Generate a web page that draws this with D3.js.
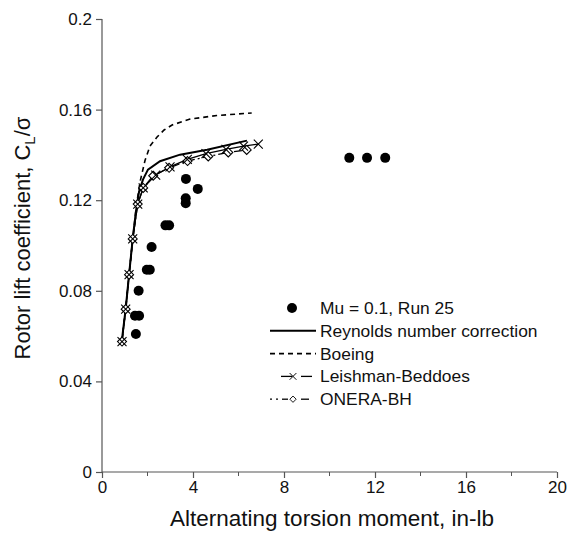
<!DOCTYPE html>
<html><head><meta charset="utf-8">
<script src="https://cdn.jsdelivr.net/npm/d3@7/dist/d3.min.js"></script>
<style>body{margin:0;background:#fff}svg{display:block;font-family:"Liberation Sans",Arial,sans-serif}</style>
</head><body><svg id="c" width="570" height="533"></svg>
<script>
// Data
const xTicks = [0, 4, 8, 12, 16, 20];
const yTicks = [0, 0.04, 0.08, 0.12, 0.16, 0.2];
const yTickLabels = ["0", "0.04", "0.08", "0.12", "0.16", "0.2"];
const testX = [1.49, 1.45, 1.63, 1.61, 1.97, 2.1, 2.18, 2.79, 2.95, 3.68, 3.68, 3.69, 4.21, 10.87, 11.65, 12.45];
const testY = [0.0609, 0.069, 0.069, 0.080, 0.0893, 0.0893, 0.0993, 0.1089, 0.1089, 0.1209, 0.1187, 0.1294, 0.125, 0.1387, 0.1387, 0.1387];
const reX = [0.866, 1.04, 1.19, 1.35, 1.49, 1.63, 1.80, 2.02, 2.55, 3.43, 4.62, 6.37];
const reY = [0.0576, 0.0719, 0.0871, 0.1029, 0.1150, 0.1238, 0.1291, 0.1335, 0.1372, 0.1401, 0.1423, 0.1463];
const boX = [0.866, 1.04, 1.19, 1.35, 1.52, 1.67, 1.89, 2.11, 2.42, 2.73, 3.08, 3.87, 5.05, 6.58];
const boY = [0.0576, 0.0719, 0.0871, 0.1029, 0.1181, 0.1280, 0.1375, 0.1439, 0.1479, 0.1510, 0.1532, 0.1558, 0.1574, 0.1585];
const lbX = [0.88, 1.04, 1.19, 1.35, 1.57, 1.81, 2.36, 2.99, 3.75, 4.57, 5.45, 6.22, 6.87];
const lbY = [0.0576, 0.0719, 0.0871, 0.1029, 0.1183, 0.1254, 0.1311, 0.1347, 0.1380, 0.1406, 0.1424, 0.1439, 0.1448];
const onX = [0.88, 1.04, 1.19, 1.35, 1.57, 1.81, 2.25, 2.95, 3.76, 4.67, 5.55, 6.36];
const onY = [0.0576, 0.0719, 0.0871, 0.1029, 0.1183, 0.1254, 0.1308, 0.1343, 0.1373, 0.1393, 0.1411, 0.1422];
const legendLabels = ["Mu = 0.1, Run 25", "Reynolds number correction", "Boeing", "Leishman-Beddoes", "ONERA-BH"];

const FONT = "Liberation Sans, Arial, sans-serif";
const svg = d3.select("#c");
const x = d3.scaleLinear().domain([0, 20]).range([102, 557]);
const y = d3.scaleLinear().domain([0, 0.2]).range([472, 19]);
const axisColor = "#555";

// X axis
const gx = svg.append("g").attr("transform", "translate(0,472)")
  .call(d3.axisBottom(x).tickValues(xTicks).tickSize(6).tickPadding(3).tickFormat(d3.format("d")));
gx.append("g").selectAll("line").data(d3.range(2, 20, 4)).join("line")
  .attr("x1", d => x(d)).attr("x2", d => x(d)).attr("y1", 0).attr("y2", 4).attr("stroke", axisColor);
// Y axis
const gy = svg.append("g").attr("transform", "translate(102,0)")
  .call(d3.axisLeft(y).tickValues(yTicks).tickSize(6).tickPadding(4).tickFormat((d, i) => yTickLabels[i]));
[gx, gy].forEach(g => {
  g.attr("font-family", FONT);
  g.select(".domain").attr("stroke", axisColor).attr("stroke-width", 1.2);
  g.selectAll(".tick line").attr("stroke", axisColor).attr("stroke-width", 1.2);
  g.selectAll("text").attr("font-size", 17).attr("fill", "#111").attr("font-family", FONT);
});
gx.select(".domain").attr("d", "M102,0H557");
gy.select(".domain").attr("d", "M0,19V472");

// Axis titles
svg.append("text").attr("x", 332).attr("y", 526).attr("text-anchor", "middle").attr("font-family", FONT)
  .attr("font-size", 22.5).attr("fill", "#111").text("Alternating torsion moment, in-lb");
const yl = svg.append("text").attr("transform", "translate(30,238) rotate(-90)").attr("text-anchor", "middle")
  .attr("font-size", 22).attr("fill", "#111").attr("font-family", FONT);
yl.append("tspan").text("Rotor lift coefficient, C");
yl.append("tspan").attr("font-size", 15).attr("dy", 5).text("L");
yl.append("tspan").attr("dy", -5).text("/σ");

const line = d3.line().x(d => x(d[0])).y(d => y(d[1]));
const zip = (a, b) => a.map((v, i) => [v, b[i]]);

// Lines
svg.append("path").datum(zip(boX, boY)).attr("d", line).attr("fill", "none")
  .attr("stroke", "#000").attr("stroke-width", 1.6).attr("stroke-dasharray", "5,4");
svg.append("path").datum(zip(onX, onY)).attr("d", line).attr("fill", "none")
  .attr("stroke", "#000").attr("stroke-width", 1.3).attr("stroke-dasharray", "8,3,2,3");
svg.append("path").datum(zip(lbX, lbY)).attr("d", line).attr("fill", "none")
  .attr("stroke", "#000").attr("stroke-width", 1.3);
svg.append("path").datum(zip(reX, reY)).attr("d", line).attr("fill", "none")
  .attr("stroke", "#000").attr("stroke-width", 2);

// Markers
const xMark = "M-4.5,-4.5L4.5,4.5M-4.5,4.5L4.5,-4.5";
const dMark = "M0,-4.5L4.5,0L0,4.5L-4.5,0Z";
svg.append("g").selectAll("path").data(zip(onX, onY)).join("path")
  .attr("transform", d => `translate(${x(d[0])},${y(d[1])})`).attr("d", dMark)
  .attr("fill", "#fff").attr("stroke", "#000").attr("stroke-width", 1.1);
svg.append("g").selectAll("path").data(zip(lbX, lbY)).join("path")
  .attr("transform", d => `translate(${x(d[0])},${y(d[1])})`).attr("d", xMark)
  .attr("fill", "none").attr("stroke", "#000").attr("stroke-width", 1.1);
svg.append("g").selectAll("circle").data(zip(testX, testY)).join("circle")
  .attr("cx", d => x(d[0])).attr("cy", d => y(d[1])).attr("r", 5).attr("fill", "#000");

// Legend
const lg = svg.append("g").attr("font-family", FONT);
const ly = i => 308 + i * 22.8;
lg.selectAll("text").data(legendLabels).join("text")
  .attr("x", 320).attr("y", (d, i) => ly(i)).attr("dy", "0.35em")
  .attr("font-size", 17.4).attr("fill", "#111").text(d => d);
lg.append("circle").attr("cx", 292).attr("cy", ly(0)).attr("r", 5).attr("fill", "#000");
lg.append("line").attr("x1", 270).attr("x2", 316).attr("y1", ly(1)).attr("y2", ly(1))
  .attr("stroke", "#000").attr("stroke-width", 2);
lg.append("line").attr("x1", 270).attr("x2", 316).attr("y1", ly(2)).attr("y2", ly(2))
  .attr("stroke", "#000").attr("stroke-width", 1.6).attr("stroke-dasharray", "5,4");
lg.append("line").attr("x1", 281).attr("x2", 292).attr("y1", ly(3)).attr("y2", ly(3)).attr("stroke", "#000").attr("stroke-width", 1.3);
lg.append("line").attr("x1", 301).attr("x2", 312).attr("y1", ly(3)).attr("y2", ly(3)).attr("stroke", "#000").attr("stroke-width", 1.3);
lg.append("path").attr("transform", `translate(293,${ly(3)}) scale(0.75)`).attr("d", xMark)
  .attr("fill", "none").attr("stroke", "#000").attr("stroke-width", 1.3);
lg.append("line").attr("x1", 270).attr("x2", 278).attr("y1", ly(4)).attr("y2", ly(4)).attr("stroke", "#000").attr("stroke-width", 1.3).attr("stroke-dasharray", "2,4");
lg.append("line").attr("x1", 282).attr("x2", 288).attr("y1", ly(4)).attr("y2", ly(4)).attr("stroke", "#000").attr("stroke-width", 1.3);
lg.append("line").attr("x1", 301).attr("x2", 309).attr("y1", ly(4)).attr("y2", ly(4)).attr("stroke", "#000").attr("stroke-width", 1.3);
lg.append("path").attr("transform", `translate(293,${ly(4)}) scale(0.7)`).attr("d", dMark)
  .attr("fill", "#fff").attr("stroke", "#000").attr("stroke-width", 1.3);
</script></body></html>
